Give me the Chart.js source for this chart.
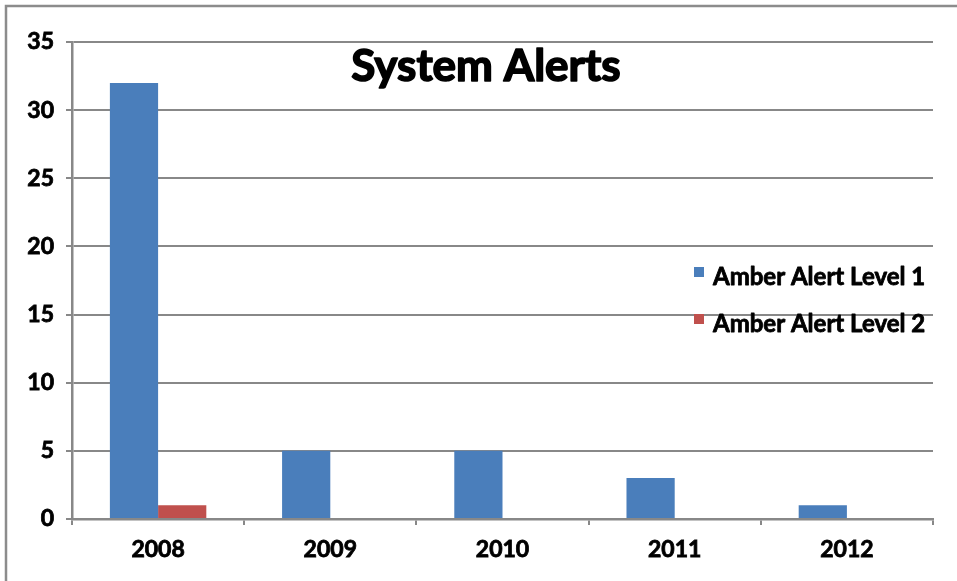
<!DOCTYPE html>
<html>
<head>
<meta charset="utf-8">
<script src="https://cdn.jsdelivr.net/npm/chart.js@4.4.1/dist/chart.umd.min.js"></script>
<style>
  html, body { margin: 0; padding: 0; background: #fff; }
  #wrap { width: 957px; height: 581px; position: relative; }
</style>
</head>
<body>
<div id="wrap"><canvas id="alerts"></canvas></div>
<script>
const years = ['2008', '2009', '2010', '2011', '2012']
const level1 = [32, 5, 5, 3, 1]
const level2 = [1, 0, 0, 0, 0]
const yTicks = [0, 5, 10, 15, 20, 25, 30, 35]
const titleText = 'System Alerts'

const FONT = 'Lato, "Open Sans", sans-serif'
const GRID = '#888888'

// bold text with a thin outline so it reads heavier
function heavyText(ctx, text, x, y, w) {
    ctx.lineWidth = w
    ctx.strokeStyle = ctx.fillStyle
    ctx.lineJoin = 'round'
    ctx.strokeText(text, x, y)
    ctx.fillText(text, x, y)
}

// frame around the chart, title and the legend drawn inside the plot
const decorations = {
    id: 'decorations',
    beforeDraw(chart) {
        const ctx = chart.ctx
        ctx.save()
        ctx.fillStyle = '#fff'
        ctx.fillRect(0, 0, chart.width, chart.height)
        ctx.strokeStyle = '#8c8c8c'
        ctx.lineWidth = 2.5
        ctx.beginPath()
        ctx.moveTo(6, chart.height)
        ctx.lineTo(6, 6)
        ctx.lineTo(chart.width, 6)
        ctx.stroke()
        ctx.restore()
    },
    afterDraw(chart) {
        const ctx = chart.ctx
        const area = chart.chartArea
        ctx.save()
        ctx.fillStyle = '#000'
        ctx.font = 'bold 44px ' + FONT
        ctx.textAlign = 'center'
        ctx.textBaseline = 'middle'
        heavyText(ctx, titleText, area.left + 414, area.top + 25, 1.6)

        ctx.font = 'bold 24px ' + FONT
        ctx.textAlign = 'left'
        ctx.textBaseline = 'alphabetic'
        chart.data.datasets.forEach((ds, i) => {
            const y = area.top + 243 + i * 47
            ctx.fillStyle = ds.backgroundColor
            ctx.fillRect(area.left + 622, y - 18, 10, 10)
            ctx.fillStyle = '#000'
            heavyText(ctx, ds.label, area.left + 641, y, 0.8)
        })
        ctx.restore()
    }
}

const tickFont = { family: FONT, size: 23, weight: 'bold' }

new Chart(document.getElementById('alerts'), {
    type: 'bar',
    data: {
        labels: years,
        datasets: [
            { label: 'Amber Alert Level 1', data: level1, backgroundColor: '#4a7ebb' },
            { label: 'Amber Alert Level 2', data: level2, backgroundColor: '#c0504d' }
        ]
    },
    options: {
        responsive: true,
        maintainAspectRatio: false,
        animation: false,
        layout: { padding: { top: 42, right: 24, left: 0, bottom: 0 } },
        categoryPercentage: 0.56,
        barPercentage: 1,
        plugins: {
            legend: { display: false },
            tooltip: { enabled: false }
        },
        scales: {
            x: {
                afterFit: axis => { axis.height = 62 },
                grid: { drawOnChartArea: false, color: GRID, lineWidth: 2, tickLength: 6 },
                border: { color: GRID, width: 2.5 },
                ticks: { color: '#000', font: tickFont, padding: 11, textStrokeColor: '#000', textStrokeWidth: 0.8 }
            },
            y: {
                min: 0,
                max: 35,
                afterFit: axis => { axis.width = 72 },
                afterBuildTicks: axis => { axis.ticks = yTicks.map(v => ({ value: v })) },
                grid: { color: GRID, lineWidth: 2, tickLength: 6 },
                border: { color: GRID, width: 2.5 },
                ticks: { color: '#000', font: tickFont, padding: 12, textStrokeColor: '#000', textStrokeWidth: 0.8 }
            }
        }
    },
    plugins: [decorations]
})
</script>
</body>
</html>
